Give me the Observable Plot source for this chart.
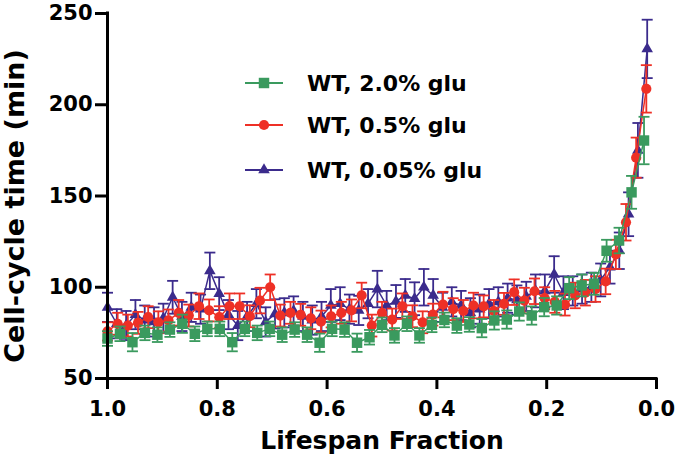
<!DOCTYPE html>
<html><head><meta charset="utf-8">
<script src="https://cdn.jsdelivr.net/npm/d3@7"></script>
<script src="https://cdn.jsdelivr.net/npm/@observablehq/plot@0.6"></script>
<style>
body{margin:0;background:#fff;}
#wrap{position:relative;width:677px;height:467px;}
#legend{position:absolute;left:0;top:0;pointer-events:none;}
</style></head><body><div id="wrap"></div>
<script>
const seriesNames = ["WT, 2.0% glu", "WT, 0.5% glu", "WT, 0.05% glu"];
const seriesColors = ["#3a9a5e", "#ee3026", "#3b2b8c"];
const seriesSymbols = ["square", "circle", "triangle"];

const xTicks = [1.0, 0.8, 0.6, 0.4, 0.2, 0.0];
const yTicks = [50, 100, 150, 200, 250];

// WT, 2.0% glu (44 bins)
const green = [71.9, 74.5, 69.9, 75, 74, 76.8, 80, 74.5, 77.2, 77.2, 69.9, 77.2, 75, 77.2, 74,
  76.8, 74, 69.6, 77.2, 76.8, 69.6, 72.6, 79.4, 73.6, 80, 73.6, 79.4, 82.1, 79, 79.6,
  77.6, 81.8, 82.3, 86.7, 84.5, 89.1, 90, 99.5, 101, 101.9, 120, 125.6, 152, 180.4];
const greenErr = [4, 4, 5, 4, 4, 4, 5, 4, 4, 4, 5, 4, 4, 4, 4, 4, 4, 5, 4, 4, 5, 4, 4, 4, 4, 4, 4, 4, 4, 4,
  5, 5, 5, 5, 5, 5, 5, 6, 6, 6, 6, 7, 9, 13];

// WT, 0.5% glu (54 bins)
const red = [75.8, 80, 79, 80.5, 83.6, 80.8, 81.8, 86, 84.5, 89.6, 87.3, 83.6, 89.6, 89.6, 84.1,
  92.7, 100, 84.5, 86, 84.9, 83, 81.2, 84, 86, 87.3, 95.5, 79, 86, 82.3, 89.6, 84.1, 80.8,
  85, 90.5, 88, 87, 90, 89.5, 87, 90.9, 97.3, 92.7, 97.8, 94, 92, 90.5, 95.5, 97, 99, 103.2,
  118, 135.6, 171, 208.7];
const redErr = [5, 6, 6, 6, 6, 6, 6, 7, 6, 7, 6, 6, 7, 7, 6, 7, 7, 6, 6, 6, 6, 6, 6, 6, 6, 7, 6, 6, 6, 7,
  6, 6, 6, 7, 6, 6, 7, 6, 6, 6, 7, 7, 7, 6, 6, 6, 7, 7, 7, 7, 8, 10, 11, 13];

// WT, 0.05% glu (59 bins)
const purple = [89, 80, 79, 85, 82, 81, 83, 94.5, 84, 89, 88, 109, 96.5, 85, 79, 84, 91, 81, 85.4,
  86, 87, 84, 82, 84, 90, 91, 88, 87.3, 91, 99, 90, 92.2, 95.5, 93.7, 100, 95.5, 89, 92, 90,
  86, 88, 91, 92, 94, 93, 95, 98, 98, 107, 97, 98, 99, 100, 104, 111, 120, 140, 175, 230.6];
const purpleErr = [8, 8, 8, 8, 8, 8, 8, 9, 8, 8, 8, 10, 9, 8, 8, 8, 8, 8, 8, 8, 8, 8, 8, 8, 9, 9, 8, 8, 8, 10,
  8, 9, 9, 9, 10, 9, 8, 8, 8, 8, 8, 8, 8, 8, 8, 8, 9, 9, 10, 9, 8, 8, 8, 9, 9, 10, 12, 15, 16];

function rows(vals, errs) {
  const n = vals.length;
  return vals.map((v, i) => ({f: 1 - i / n, v, lo: v - errs[i], hi: v + errs[i]}));
}
const data = [rows(green, greenErr), rows(red, redErr), rows(purple, purpleErr)];

const capSymbol = {draw(ctx, size) { const w = Math.sqrt(size / Math.PI); ctx.moveTo(-w, 0); ctx.lineTo(w, 0); }};
const markerR = [5.9, 5.1, 4.3];

function seriesMarks(i) {
  const d = data[i], c = seriesColors[i];
  return [
    Plot.ruleX(d, {x: "f", y1: "lo", y2: "hi", stroke: c, strokeWidth: 1.8}),
    Plot.dot(d, {x: "f", y: "hi", symbol: capSymbol, r: 5.5, stroke: c, fill: "none", strokeWidth: 1.8}),
    Plot.dot(d, {x: "f", y: "lo", symbol: capSymbol, r: 5.5, stroke: c, fill: "none", strokeWidth: 1.8}),
    Plot.line(d, {x: "f", y: "v", stroke: c, strokeWidth: 1.5}),
    Plot.dot(d, {x: "f", y: "v", symbol: seriesSymbols[i], r: markerR[i], fill: c, stroke: "none"})
  ];
}

const chart = Plot.plot({
  width: 677, height: 467,
  marginLeft: 107, marginRight: 21, marginTop: 13, marginBottom: 89,
  style: {fontFamily: "'DejaVu Sans', sans-serif", fontWeight: "bold", fontSize: "21px", color: "#000", background: "#fff"},
  x: {domain: [1, 0], ticks: xTicks},
  y: {domain: [50, 250], ticks: yTicks},
  marks: [
    ...seriesMarks(2), ...seriesMarks(1), ...seriesMarks(0),
    Plot.axisX({ticks: xTicks, tickFormat: d3.format(".1f"), tickSize: 11, tickPadding: 12, strokeWidth: 3, label: null}),
    Plot.axisY({ticks: yTicks, tickSize: 12, tickPadding: 3, strokeWidth: 3, label: null}),
    Plot.ruleX([1], {strokeWidth: 3, strokeLinecap: "square"}),
    Plot.ruleY([50], {strokeWidth: 3, strokeLinecap: "square"}),
    Plot.text(["Lifespan Fraction"], {frameAnchor: "bottom", dy: 62, fontSize: 25, fontWeight: "bold", lineAnchor: "middle", textAnchor: "middle"}),
    Plot.text(["Cell-cycle time (min)"], {frameAnchor: "left", rotate: -90, dx: -92, dy: 10, fontSize: 27, fontWeight: "bold", lineAnchor: "middle", textAnchor: "middle"})
  ]
});
const wrap = document.getElementById("wrap");
wrap.appendChild(chart);

// legend overlay
const leg = d3.select(wrap).append("svg").attr("id", "legend").attr("width", 677).attr("height", 467);
const rowsY = [83, 125, 170];
seriesNames.forEach((name, i) => {
  const g = leg.append("g").attr("transform", `translate(0,${rowsY[i]})`);
  g.append("line").attr("x1", 245).attr("x2", 283).attr("stroke", seriesColors[i]).attr("stroke-width", 2);
  const sym = {square: d3.symbolSquare, circle: d3.symbolCircle, triangle: d3.symbolTriangle}[seriesSymbols[i]];
  g.append("path").attr("transform", "translate(264,0)").attr("d", d3.symbol(sym, Math.PI * markerR[i] * markerR[i])()).attr("fill", seriesColors[i]);
  g.append("text").attr("x", 307).attr("dy", "0.36em").attr("font-family", "'DejaVu Sans', sans-serif")
    .attr("font-weight", "bold").attr("font-size", 22).attr("fill", "#000").text(name);
});
</script></body></html>
